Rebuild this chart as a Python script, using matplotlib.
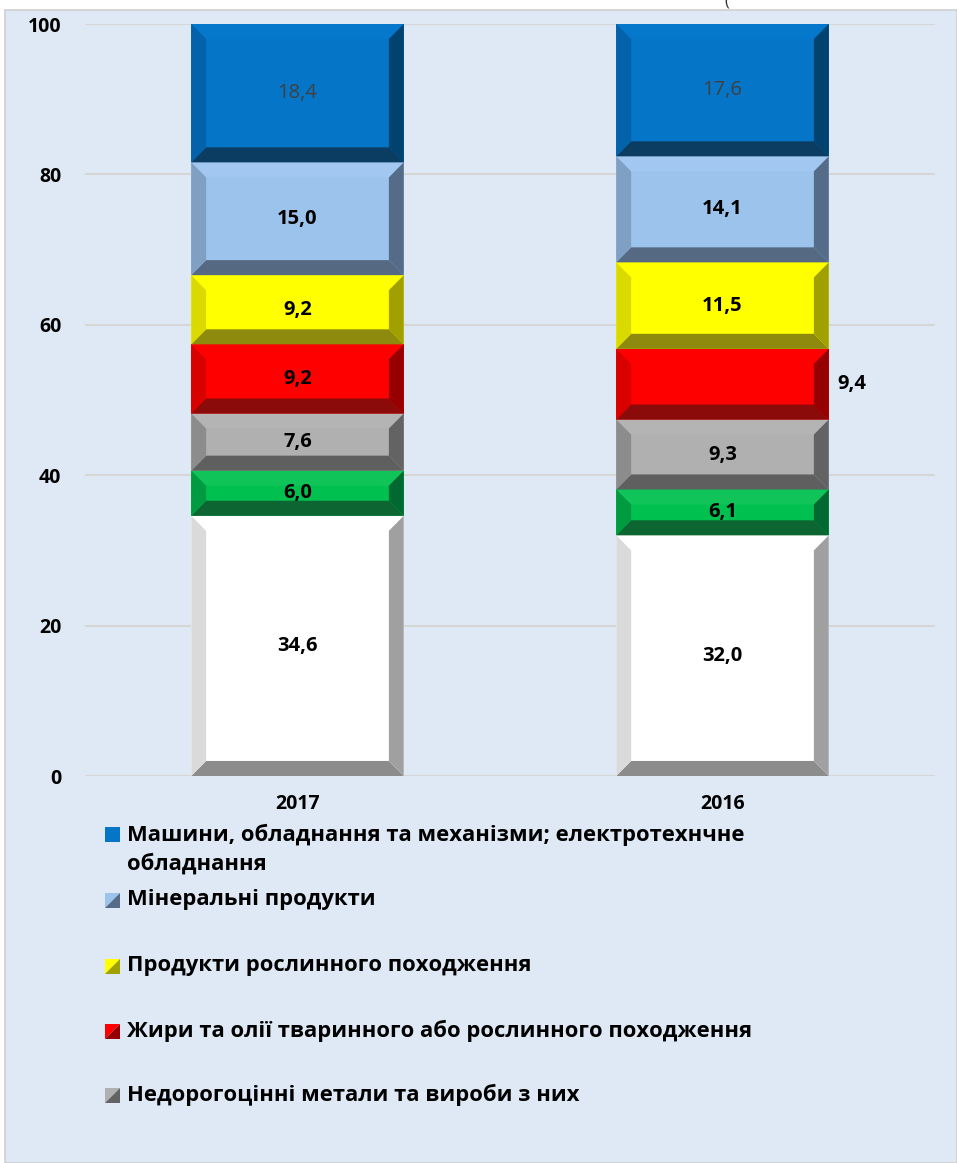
import matplotlib.pyplot as plt
from matplotlib.patches import Polygon, Rectangle

plt.rcParams['font.family'] = ['Open Sans', 'DejaVu Sans']

# Data (shares, %), stacked from bottom to top
years = ["2017", "2016"]
other = [34.6, 32.0]
green = [6.0, 6.1]
metals = [7.6, 9.3]
fats = [9.2, 9.4]
plants = [9.2, 11.5]
minerals = [15.0, 14.1]
machines = [18.4, 17.6]

series = [other, green, metals, fats, plants, minerals, machines]

legend_labels = [
    "Машини, обладнання та механізми; електротехнчне\nобладнання",
    "Мінеральні продукти",
    "Продукти рослинного походження",
    "Жири та олії тваринного або рослинного походження",
    "Недорогоцінні метали та вироби з них",
]

# face, left, right, bottom, top
palette = [
    ("#FFFFFF", "#DADADA", "#A0A0A0", "#8C8C8C", "#FFFFFF"),
    ("#00C050", "#009A40", "#006830", "#0D6632", "#10C45A"),
    ("#B0B0B0", "#8C8C8C", "#636363", "#5F5F5F", "#B4B4B4"),
    ("#FF0000", "#D90000", "#960000", "#8B0A0A", "#FF0000"),
    ("#FFFF00", "#DADA00", "#A0A000", "#8E8A0E", "#FFFF00"),
    ("#9BC3EB", "#7FA0C3", "#546C88", "#556A82", "#A2C8F2"),
    ("#0575C8", "#0462AA", "#02426E", "#0B3D63", "#0678CC"),
]

W, H = 957, 1163
fig = plt.figure(figsize=(W / 100, H / 100), dpi=100)

# panel background
fig.patches.append(Rectangle((5 / W, 0), 1 - 5 / W, 1 - 10 / H, transform=fig.transFigure,
                             facecolor="#DEE9F5", edgecolor="#CFCFCF", linewidth=1.2, zorder=-5))
fig.text(725 / W, 1 - 6 / H, "(" + " " * 52 + ")  %)", fontsize=12, va="baseline",
         ha="left", color="#333333")

ax = fig.add_axes([85 / W, 1 - 776 / H, 850 / W, 752 / H])
ax.set_zorder(1)
ax.set_facecolor("none")
ax.set_ylim(0, 100)
ax.set_xlim(-0.5, 1.5)
ax.set_yticks(range(0, 101, 20))
ax.grid(axis="y", color="#D6D6D6", linewidth=1.5)
ax.set_axisbelow(True)
for s in ax.spines.values():
    s.set_visible(False)
ax.tick_params(length=0, labelsize=14)
ax.tick_params(axis="y", pad=17)
ax.tick_params(axis="x", pad=13)
for lab in ax.get_yticklabels():
    lab.set_fontweight("bold")

x = list(range(len(years)))
bottom = [0.0] * len(years)
dx = 0.035
for vals, cols in zip(series, palette):
    bars = ax.bar(x, vals, width=0.5, bottom=bottom, color=cols[0], linewidth=0, zorder=2)
    for b in bars:
        x0, x1 = b.get_x(), b.get_x() + b.get_width()
        y0, y1 = b.get_y(), b.get_y() + b.get_height()
        dy = min(2.0, (y1 - y0) / 3)
        polys = [
            ([(x0, y1), (x1, y1), (x1 - dx, y1 - dy), (x0 + dx, y1 - dy)], cols[4]),
            ([(x0, y0), (x1, y0), (x1 - dx, y0 + dy), (x0 + dx, y0 + dy)], cols[3]),
            ([(x0, y0), (x0 + dx, y0 + dy), (x0 + dx, y1 - dy), (x0, y1)], cols[1]),
            ([(x1, y0), (x1 - dx, y0 + dy), (x1 - dx, y1 - dy), (x1, y1)], cols[2]),
        ]
        for pts, c in polys:
            ax.add_patch(Polygon(pts, closed=True, facecolor=c, edgecolor="none", zorder=3))
    bottom = [b + v for b, v in zip(bottom, vals)]

# value labels
bottom = [0.0] * len(years)
for si, vals in enumerate(series):
    for i, v in enumerate(vals):
        yc = bottom[i] + v / 2
        txt = f"{v:.1f}".replace(".", ",")
        if si == len(series) - 1:
            ax.text(i, yc, txt, ha="center", va="center", fontsize=14.5, color="#404040", zorder=5)
        elif si == 3 and i == 1:
            ax.text(i + 0.305, yc, txt, ha="center", va="center", fontsize=14.5,
                    fontweight="bold", color="black", zorder=5)
        else:
            ax.text(i, yc, txt, ha="center", va="center", fontsize=14.5,
                    fontweight="bold", color="black", zorder=5)
    bottom = [b + v for b, v in zip(bottom, vals)]

ax.set_xticks(x)
ax.set_xticklabels(years, fontweight="bold")

# legend (manual, top series first)
leg_y = [849, 900, 966, 1031, 1095]
leg_cols = palette[::-1][:5]
for k, (lab, cols) in enumerate(zip(legend_labels, leg_cols)):
    yc = 1 - leg_y[k] / H
    if k == 0:
        ym = 1 - 834 / H
    else:
        ym = yc
    mx0, mx1 = 105 / W, 120 / W
    my0, my1 = ym - 7.5 / H, ym + 7.5 / H
    if k == 0:
        fig.patches.append(Rectangle((mx0, my0), mx1 - mx0, my1 - my0, transform=fig.transFigure,
                                     facecolor=cols[0], edgecolor="none"))
    else:
        fig.patches.append(Polygon([(mx0, my0), (mx0, my1), (mx1, my1)], closed=True,
                                   transform=fig.transFigure, facecolor=cols[0], edgecolor="none"))
        fig.patches.append(Polygon([(mx0, my0), (mx1, my0), (mx1, my1)], closed=True,
                                   transform=fig.transFigure, facecolor=cols[2], edgecolor="none"))
    fig.text(127 / W, yc, lab, ha="left", va="center", fontsize=15.8, fontweight="bold",
             color="black", linespacing=1.45)

fig.savefig("out.png", dpi=100)
